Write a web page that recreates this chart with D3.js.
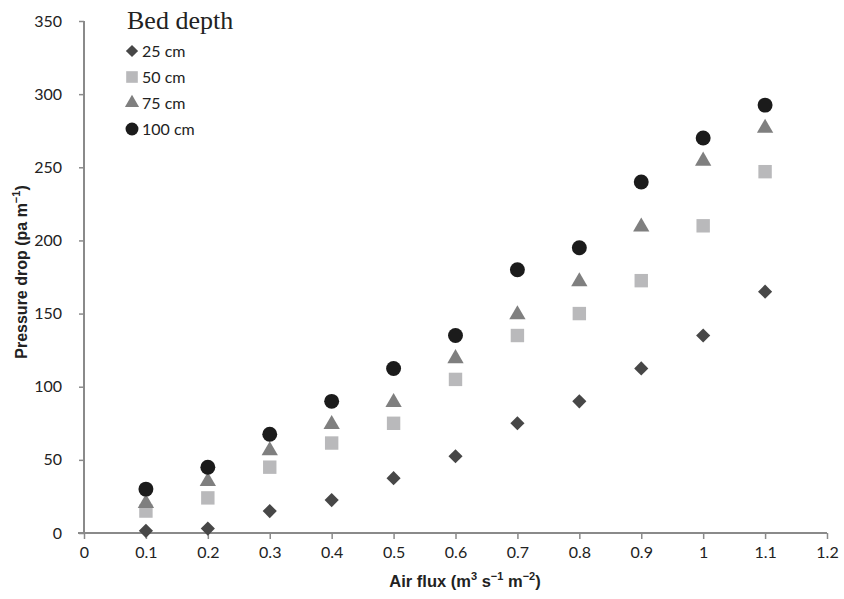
<!DOCTYPE html>
<html>
<head>
<meta charset="utf-8">
<script src="https://cdn.jsdelivr.net/npm/d3@7"></script>
<style>
  body { margin: 0; background: #fff; }
  svg { display: block; }
</style>
</head>
<body>
<div id="chart"></div>
<script>
// values
var airFlux = [0.1, 0.2, 0.3, 0.4, 0.5, 0.6, 0.7, 0.8, 0.9, 1.0, 1.1];
var depth25  = [1.5, 3, 15, 22.5, 37.5, 52.5, 75, 90, 112.5, 135, 165];
var depth50  = [15, 24, 45, 61.5, 75, 105, 135, 150, 172.5, 210, 247];
var depth75  = [21, 36, 57, 75, 90, 120, 150, 172.5, 210, 255, 277.5];
var depth100 = [30, 45, 67.5, 90, 112.5, 135, 180, 195, 240, 270, 292.5];
var seriesNames = ["25 cm", "50 cm", "75 cm", "100 cm"];
var xTicks = [0, 0.1, 0.2, 0.3, 0.4, 0.5, 0.6, 0.7, 0.8, 0.9, 1, 1.1, 1.2];
var yTicks = [0, 50, 100, 150, 200, 250, 300, 350];

var series = [
  {name: seriesNames[0], values: depth25,  shape: d3.symbolSquare,   rot: 45, color: "#474747", size: 100},
  {name: seriesNames[1], values: depth50,  shape: d3.symbolSquare,   rot: 0,  color: "#b9b9bb", size: 180},
  {name: seriesNames[2], values: depth75,  shape: d3.symbolTriangle, rot: 0,  color: "#7f7f7f", size: 115},
  {name: seriesNames[3], values: depth100, shape: d3.symbolCircle,   rot: 0,  color: "#1b1b1b", size: 175}
];

var width = 844, height = 599;
var margin = {top: 21, right: 17, bottom: 66, left: 84};

var x = d3.scaleLinear().domain([0, 1.2]).range([margin.left, width - margin.right]);
var y = d3.scaleLinear().domain([0, 350]).range([height - margin.bottom, margin.top]);

var svg = d3.select("#chart").append("svg")
  .attr("width", width)
  .attr("height", height);

var axisColor = "#8a8a8a";
var tickFont = "Lato, 'Open Sans', sans-serif";

// y axis
var yAxis = svg.append("g")
  .attr("transform", "translate(" + margin.left + ",0)")
  .call(d3.axisLeft(y).tickValues(yTicks).tickSize(5).tickPadding(17).tickFormat(d3.format("d")));
yAxis.select(".domain").attr("stroke", axisColor).attr("stroke-width", 2).attr("d", "M0," + y(0) + "V" + y(350));
yAxis.selectAll(".tick line").attr("stroke", axisColor).attr("stroke-width", 1.5);
yAxis.selectAll(".tick text").attr("fill", "#222").style("font-family", tickFont).style("font-size", "16px");

// x axis
var xAxis = svg.append("g")
  .attr("transform", "translate(0," + y(0) + ")")
  .call(d3.axisBottom(x).tickValues(xTicks).tickSize(6).tickPadding(8).tickFormat(function(d) { return d3.format("")(+d.toFixed(1)); }));
xAxis.select(".domain").attr("stroke", axisColor).attr("stroke-width", 2).attr("d", "M" + (margin.left - 6) + ",0H" + x(1.2));
xAxis.selectAll(".tick line").attr("stroke", axisColor).attr("stroke-width", 1.5);
xAxis.selectAll(".tick text").attr("fill", "#222").style("font-family", tickFont).style("font-size", "16px");

// axis titles
svg.append("text")
  .attr("x", 465)
  .attr("y", 587)
  .attr("text-anchor", "middle")
  .style("font-family", "'Liberation Sans', Arial, sans-serif")
  .style("font-weight", "bold")
  .style("font-size", "16.5px")
  .attr("fill", "#222")
  .html("Air flux (m<tspan dy='-7' font-size='11px'>3</tspan><tspan dy='7'> s</tspan><tspan dy='-7' font-size='11px'>\u22121</tspan><tspan dy='7'> m</tspan><tspan dy='-7' font-size='11px'>\u22122</tspan><tspan dy='7'>)</tspan>");

svg.append("text")
  .attr("transform", "translate(27," + (y(175) - 5) + ") rotate(-90)")
  .attr("text-anchor", "middle")
  .style("font-family", "'Liberation Sans', Arial, sans-serif")
  .style("font-weight", "bold")
  .style("font-size", "16px")
  .attr("fill", "#222")
  .html("Pressure drop (pa m<tspan dy='-7' font-size='11px'>\u22121</tspan><tspan dy='7'>)</tspan>");

// points
series.forEach(function(s) {
  var sym = d3.symbol().type(s.shape).size(s.size);
  svg.append("g").selectAll("path")
    .data(s.values)
    .enter().append("path")
    .attr("d", sym)
    .attr("transform", function(d, i) {
      var yy = y(d);
      if (s.shape === d3.symbolTriangle) yy += 1;
      return "translate(" + x(airFlux[i]) + "," + yy + ") rotate(" + s.rot + ")";
    })
    .attr("fill", s.color);
});

// legend
var legend = svg.append("g");
legend.append("text")
  .attr("x", 127)
  .attr("y", 29)
  .style("font-family", "'Liberation Serif', 'DejaVu Serif', serif")
  .style("font-size", "26px")
  .attr("fill", "#222")
  .text("Bed depth");

var legendItems = legend.selectAll("g.item")
  .data(series)
  .enter().append("g")
  .attr("class", "item")
  .attr("transform", function(d, i) { return "translate(132," + (51 + i * 26) + ")"; });

legendItems.append("path")
  .attr("d", function(d) { return d3.symbol().type(d.shape).size(d.size * 0.75)(); })
  .attr("transform", function(d) { return "rotate(" + d.rot + ")"; })
  .attr("fill", function(d) { return d.color; });

legendItems.append("text")
  .attr("x", 10)
  .attr("y", 6)
  .style("font-family", tickFont)
  .style("font-size", "16px")
  .attr("fill", "#222")
  .text(function(d) { return d.name; });
</script>
</body>
</html>
